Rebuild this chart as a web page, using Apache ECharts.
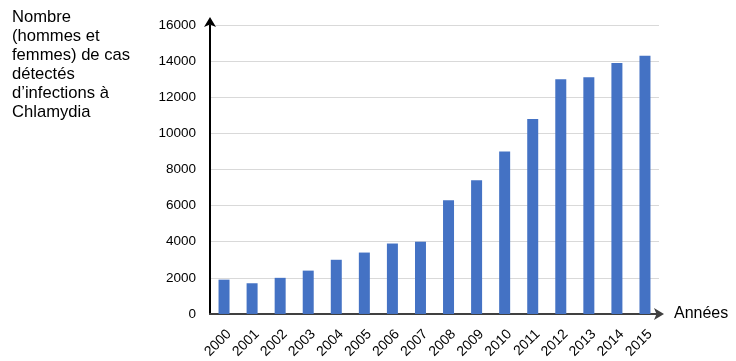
<!DOCTYPE html>
<html><head><meta charset="utf-8">
<script src="https://cdn.jsdelivr.net/npm/echarts@6/dist/echarts.min.js"></script>
<style>html,body{margin:0;padding:0;background:#fff}#c{width:736px;height:361px}</style>
</head><body><div id="c"></div>
<script>
const years = ['2000','2001','2002','2003','2004','2005','2006','2007','2008','2009','2010','2011','2012','2013','2014','2015'];
const cases = [1900,1700,2000,2400,3000,3400,3900,4000,6300,7400,9000,10800,13000,13100,13900,14300];
const yTicks = [0,2000,4000,6000,8000,10000,12000,14000,16000];
const yTitle = 'Nombre\n(hommes et\nfemmes) de cas\ndétectés\nd\u2019infections à\nChlamydia';
const xTitle = 'Années';

const chart = echarts.init(document.getElementById('c'), null, {renderer:'canvas'});
chart.setOption({
  animation:false,
  backgroundColor:'#fff',
  title:{text:yTitle,left:12,top:8,padding:0,textStyle:{fontFamily:'Liberation Sans',fontSize:16.6,fontWeight:'normal',color:'#000',lineHeight:19}},
  grid:{left:210,right:77,top:25,bottom:46},
  xAxis:{type:'category',data:years,
    name:xTitle,nameLocation:'end',nameGap:15,
    nameTextStyle:{fontFamily:'Liberation Sans',fontSize:16,color:'#000',verticalAlign:'middle',padding:[4,0,0,0]},
    axisLine:{lineStyle:{color:'#404040',width:2},symbol:['none','arrow'],symbolSize:[9,10],symbolOffset:[0,5]},
    axisTick:{show:false},
    axisLabel:{rotate:45,fontFamily:'Liberation Sans',fontSize:14,color:'#000',margin:13,interval:0,verticalAlign:'top'}},
  yAxis:{type:'value',min:yTicks[0],max:yTicks[yTicks.length-1],interval:2000,
    axisLine:{show:true,lineStyle:{color:'#000',width:2},symbol:['none','arrow'],symbolSize:[9,10],symbolOffset:[0,8]},
    axisTick:{show:false},
    splitLine:{lineStyle:{color:'#d9d9d9',width:1}},
    axisLabel:{fontFamily:'Liberation Sans',fontSize:13.5,color:'#000',margin:14,formatter:function(v){return String(v);}}},
  series:[{type:'bar',data:cases,barWidth:11,itemStyle:{color:'#4472C4'}}]
});
</script></body></html>
